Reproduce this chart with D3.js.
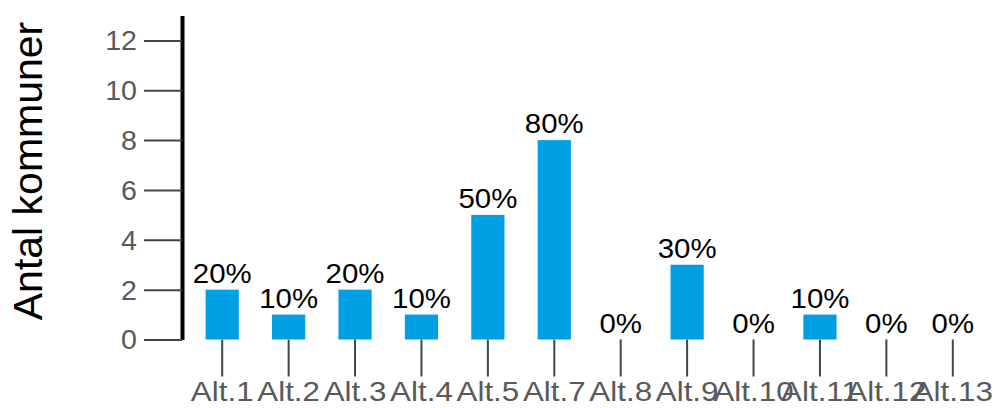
<!DOCTYPE html>
<html>
<head>
<meta charset="utf-8">
<script src="https://cdn.jsdelivr.net/npm/d3@7"></script>
<style>
  body { margin: 0; background: #fff; }
  text { font-family: "Liberation Sans", Arial, sans-serif; }
</style>
</head>
<body>
<div id="chart"></div>
<script>
// data
var categories = ["Alt.1", "Alt.2", "Alt.3", "Alt.4", "Alt.5", "Alt.7", "Alt.8", "Alt.9", "Alt.10", "Alt.11", "Alt.12", "Alt.13"];
var counts = [2, 1, 2, 1, 5, 8, 0, 3, 0, 1, 0, 0];
var percents = ["20%", "10%", "20%", "10%", "50%", "80%", "0%", "30%", "0%", "10%", "0%", "0%"];
var yTicks = [0, 2, 4, 6, 8, 10, 12];

var width = 996, height = 408;

var svg = d3.select("#chart")
  .append("svg")
    .attr("width", width)
    .attr("height", height);

// scales
var x = d3.scaleBand()
  .domain(categories)
  .range([189, 986])
  .paddingInner(0.5)
  .paddingOuter(0.25);

var y = d3.scaleLinear()
  .domain([0, 13])
  .range([339.5, 15.5]);

// Y axis
var yAxis = svg.append("g")
  .attr("transform", "translate(182,0)")
  .call(d3.axisLeft(y).tickValues(yTicks).tickSize(38).tickSizeOuter(0).tickPadding(7));

yAxis.select(".domain")
  .attr("stroke", "#000")
  .attr("stroke-width", 4);
yAxis.selectAll(".tick line")
  .attr("stroke", "#444")
  .attr("stroke-width", 2);
// text in the original looks a little wider than the font, stretch it a bit
yAxis.selectAll(".tick text")
  .attr("fill", "#595959")
  .style("font-size", "27px")
  .attr("dy", "0.35em")
  .attr("x", -45 / 1.06)
  .attr("transform", "scale(1.06,1)");

// Y axis label
svg.append("text")
  .attr("transform", "translate(42,171) rotate(-90)")
  .attr("text-anchor", "middle")
  .style("font-size", "41px")
  .attr("fill", "#000")
  .text("Antal kommuner");

// X axis (ticks hang below the baseline, no domain line)
var xAxis = svg.append("g")
  .attr("transform", "translate(0," + y(0) + ")")
  .call(d3.axisBottom(x).tickSize(37).tickPadding(5));

xAxis.select(".domain").remove();
xAxis.selectAll(".tick line")
  .attr("stroke", "#444")
  .attr("stroke-width", 2);
xAxis.selectAll(".tick text")
  .attr("fill", "#595959")
  .style("font-size", "28px")
  .attr("transform", "scale(1.12,1)");

// bars
svg.selectAll("rect.bar")
  .data(categories)
  .enter()
  .append("rect")
    .attr("class", "bar")
    .attr("x", function(d) { return x(d); })
    .attr("width", x.bandwidth())
    .attr("y", function(d, i) { return y(counts[i]); })
    .attr("height", function(d, i) { return y(0) - y(counts[i]); })
    .attr("fill", "#009FE3");

// percentage labels
svg.selectAll("text.pct")
  .data(categories)
  .enter()
  .append("text")
    .attr("class", "pct")
    .attr("transform", function(d, i) {
      return "translate(" + (x(d) + x.bandwidth() / 2) + "," + (y(counts[i]) - 7) + ") scale(1.09,1)";
    })
    .attr("text-anchor", "middle")
    .style("font-size", "27px")
    .attr("fill", "#000")
    .text(function(d, i) { return percents[i]; });
</script>
</body>
</html>
